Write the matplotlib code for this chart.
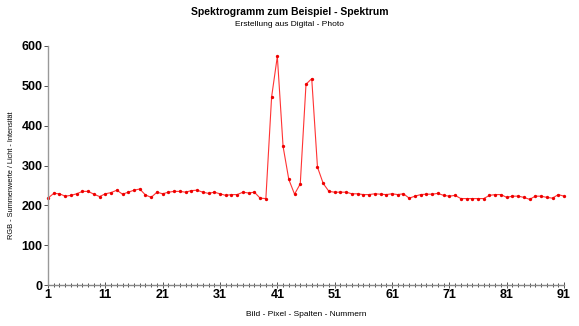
import numpy as np
import matplotlib
matplotlib.use('Agg')
import matplotlib.pyplot as plt
from matplotlib.ticker import MultipleLocator

plt.rcParams['font.family'] = ['Liberation Sans', 'DejaVu Sans']

# Pixel column numbers and summed RGB intensity
spalten = np.arange(1, 92)
intensitaet = [
    218, 230, 229, 223, 225, 229, 235, 235, 228, 222,
    229, 232, 238, 228, 233, 238, 241, 226, 220, 233,
    229, 233, 235, 235, 233, 237, 238, 233, 230, 233,
    229, 225, 227, 227, 233, 231, 233, 218, 217, 472,
    574, 348, 265, 228, 254, 504, 518, 296, 255, 235,
    233, 233, 233, 229, 229, 227, 227, 229, 228, 227,
    229, 227, 229, 218, 223, 227, 228, 228, 230, 225,
    223, 225, 217, 217, 217, 217, 217, 225, 227, 227,
    220, 223, 223, 220, 215, 223, 223, 220, 218, 227,
    223,
]
x_ticks = [1, 11, 21, 31, 41, 51, 61, 71, 81, 91]
y_ticks = [0, 100, 200, 300, 400, 500, 600]

fig = plt.figure(figsize=(5.79, 3.26), dpi=100)
ax = fig.add_axes([48 / 579, 1 - 285 / 326, 516 / 579, 239 / 326])

ax.plot(spalten, intensitaet, color='#ff3333', lw=0.8, marker='o', ms=2.4,
        mfc='#ee0000', mec='#ee0000', mew=0, clip_on=False)

ax.set_xlim(1, 91)
ax.set_ylim(0, 600)
ax.set_xticks(x_ticks)
ax.set_yticks(y_ticks)
ax.xaxis.set_minor_locator(MultipleLocator(1))

for side in ('top', 'right'):
    ax.spines[side].set_visible(False)
ax.spines['left'].set_color('#999999')
ax.spines['left'].set_linewidth(1.0)
ax.spines['bottom'].set_color('#888888')
ax.spines['bottom'].set_linewidth(1.0)

ax.tick_params(axis='x', which='both', direction='inout', length=4, width=0.6,
               color='#333333', labelsize=9, pad=1)
ax.tick_params(axis='x', which='minor', length=3)
ax.tick_params(axis='y', direction='out', length=3, width=0.6, color='#333333',
               labelsize=9, pad=1)
for lab in ax.get_xticklabels() + ax.get_yticklabels():
    lab.set_fontweight('bold')

ax.set_xlabel('Bild - Pixel - Spalten - Nummern', fontsize=6, labelpad=7)
fig.text(12 / 579, 1 - 175 / 326, 'RGB - Summenwerte / Licht - Intensität',
         rotation=90, ha='center', va='center', fontsize=5.3)

fig.text(0.5, 1 - 12 / 326, 'Spektrogramm zum Beispiel - Spektrum', ha='center',
         va='center', fontsize=7.5, fontweight='bold')
fig.text(0.5, 1 - 25 / 326, 'Erstellung aus Digital - Photo', ha='center',
         va='center', fontsize=6)

fig.savefig('out.png', dpi=100, facecolor='white')
